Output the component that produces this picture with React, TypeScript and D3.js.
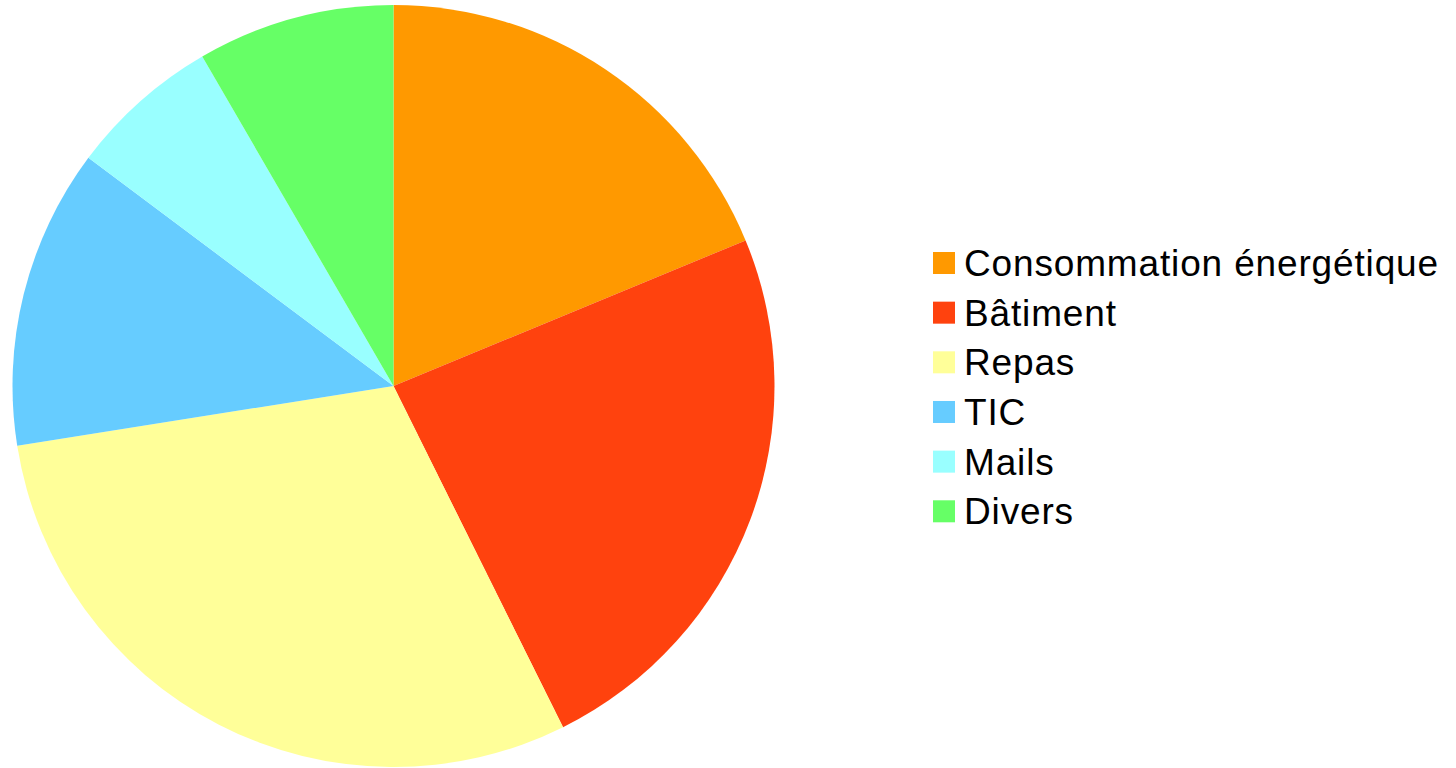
import React from "react";
import * as d3 from "d3";

const categories = ["Consommation énergétique", "Bâtiment", "Repas", "TIC", "Mails", "Divers"];
const values = [18.76, 23.9, 29.83, 12.73, 6.41, 8.37];
const colors = ["#ff9900", "#ff420e", "#ffff99", "#66ccff", "#99ffff", "#66ff66"];

export default function App() {
  const width = 1456;
  const height = 768;
  const cx = 393.5;
  const cy = 386;
  const r = 381;

  const pie = d3.pie<number>().sort(null).value((d) => d)(values);
  const arc = d3.arc<d3.PieArcDatum<number>>().innerRadius(0).outerRadius(r);

  const legendX = 933;
  const legendY = 252;
  const step = 49.66;
  const sq = 22;

  return (
    <svg
      width={width}
      height={height}
      style={{ position: "absolute", left: 0, top: 0, background: "#fff" }}
    >
      <g transform={`translate(${cx},${cy})`}>
        {pie.map((p, i) => (
          <path key={i} d={arc(p) || ""} fill={colors[i]} />
        ))}
      </g>
      <g
        fontFamily="'Liberation Sans', Arial, sans-serif"
        fontSize={37}
        letterSpacing={0.85}
        fill="#000"
      >
        {categories.map((c, i) => (
          <g key={c} transform={`translate(${legendX},${legendY + i * step})`}>
            <rect x={0} y={0} width={sq} height={sq} fill={colors[i]} />
            <text x={31} y={24}>{c}</text>
          </g>
        ))}
      </g>
    </svg>
  );
}
